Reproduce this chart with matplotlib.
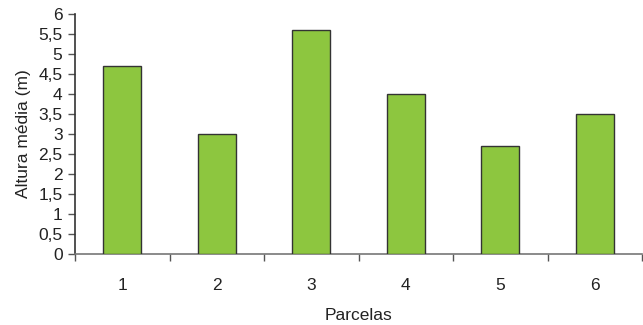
import matplotlib
matplotlib.use("Agg")
import matplotlib.pyplot as plt
import numpy as np
from matplotlib.ticker import FixedLocator

parcelas = ["1", "2", "3", "4", "5", "6"]
altura = [4.7, 3.0, 5.6, 4.0, 2.7, 3.5]
yticks = [0, 0.5, 1, 1.5, 2, 2.5, 3, 3.5, 4, 4.5, 5, 5.5, 6]

plt.rcParams["font.family"] = ["Liberation Sans", "DejaVu Sans"]
FS = 12.5

fig = plt.figure(figsize=(6.43, 3.25), dpi=100)
ax = fig.add_axes([75 / 643, 1 - 254 / 325, 567 / 643, 240 / 325])

x = np.arange(len(parcelas))
ax.bar(x, altura, width=0.4, color="#8DC63F", edgecolor="#333333", linewidth=1.0, zorder=3)

ax.set_xlim(-0.5, len(parcelas) - 0.5)
ax.set_ylim(0, 6)
ax.set_yticks(yticks)
ax.set_yticklabels([f"{v:g}".replace(".", ",") for v in yticks], fontsize=FS, color="#222222")

ax.set_xticks(x)
ax.set_xticklabels(parcelas, fontsize=FS, color="#222222")
ax.tick_params(axis="x", which="major", length=0, pad=17)
ax.xaxis.set_minor_locator(FixedLocator(np.arange(-0.5, len(parcelas), 1.0)))
ax.tick_params(axis="x", which="minor", length=5, width=1, color="#555555")
ax.tick_params(axis="y", length=5, width=1, color="#555555", pad=4)

for s in ["top", "right"]:
    ax.spines[s].set_visible(False)
ax.spines["left"].set_color("#333333")
ax.spines["bottom"].set_color("#777777")
ax.spines["left"].set_linewidth(1.2)
ax.spines["bottom"].set_linewidth(1.2)

ax.set_xlabel("Parcelas", fontsize=FS, color="#222222", labelpad=11)
ax.set_ylabel("Altura média (m)", fontsize=FS, color="#222222", labelpad=5)

fig.savefig("out.png", dpi=100)
